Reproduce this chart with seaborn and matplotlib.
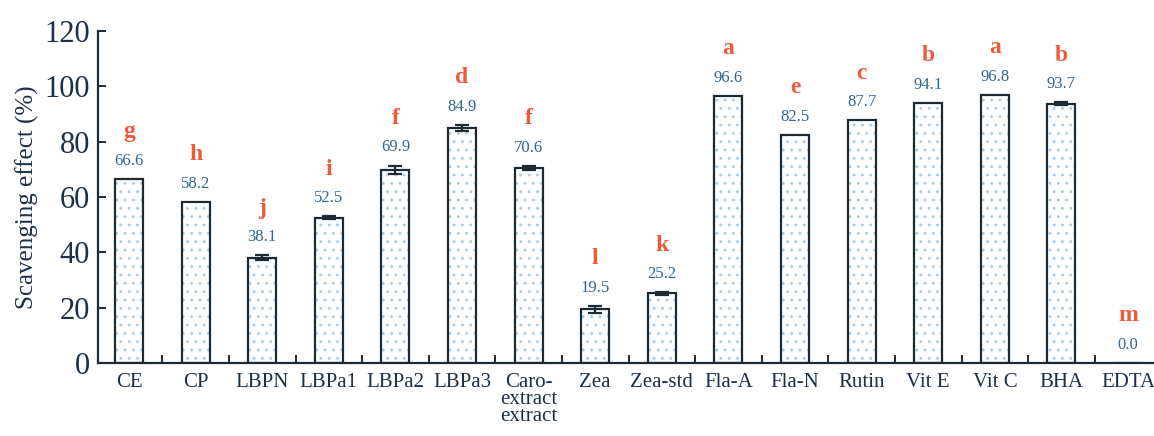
import seaborn as sns
import numpy as np
import matplotlib
matplotlib.use("Agg")
import matplotlib.pyplot as plt
from matplotlib.ticker import FixedLocator

samples = ["CE", "CP", "LBPN", "LBPa1", "LBPa2", "LBPa3", "Caro-\nextract\nextract",
           "Zea", "Zea-std", "Fla-A", "Fla-N", "Rutin", "Vit E", "Vit C", "BHA", "EDTA"]
scavenging = [66.6, 58.2, 38.1, 52.5, 69.9, 84.9, 70.6, 19.5, 25.2, 96.6, 82.5, 87.7, 94.1, 96.8, 93.7, 0.0]
sd = [0.0, 0.0, 0.8, 0.5, 1.5, 1.2, 0.7, 1.3, 0.4, 0.0, 0.0, 0.0, 0.0, 0.0, 0.5, 0.0]
letters = ["g", "h", "j", "i", "f", "d", "f", "l", "k", "a", "e", "c", "b", "a", "b", "m"]

sns.set_style("ticks")
plt.rcParams["font.family"] = ["Liberation Serif", "DejaVu Serif"]
plt.rcParams["hatch.linewidth"] = 0.9

dark = "#1b2a33"
tick_col = "#1d3048"
val_col = "#2f6690"
let_col = "#ee5a3a"

f, ax = plt.subplots(figsize=(11.54, 4.36), dpi=100)
f.subplots_adjust(left=0.085, right=1.0, bottom=0.167, top=0.929)

# dotted fill layer
sns.barplot(x=samples, y=scavenging, ax=ax, color="white", width=0.42,
            edgecolor="#a6cdea", linewidth=0, saturation=1)
for p in ax.patches:
    p.set_hatch("..")
# outline layer
sns.barplot(x=samples, y=scavenging, ax=ax, fill=False, width=0.42,
            edgecolor=dark, linewidth=1.6)

idx = [i for i, e in enumerate(sd) if e > 0]
ax.errorbar(idx, [scavenging[i] for i in idx], yerr=[sd[i] for i in idx],
            fmt="none", ecolor=dark, elinewidth=1.6, capsize=5, capthick=1.6)

for i, v in enumerate(scavenging):
    top = v + sd[i]
    ax.annotate(f"{v:.1f}", (i, top), xytext=(0, 13), textcoords="offset points",
                ha="center", va="center", fontsize=12, color=val_col)
    ax.annotate(letters[i], (i, top), xytext=(0, 34), textcoords="offset points",
                ha="center", va="center", fontsize=17, fontweight="bold", color=let_col)

ax.set_xlim(-0.465, 15.39)
ax.set_ylim(0, 120)
ax.set_yticks(np.arange(0, 121, 20))
ax.set_ylabel("Scavenging effect (%)", fontsize=18, color=tick_col, labelpad=4)
ax.set_xlabel("")
sns.despine(ax=ax)
for s in ["left", "bottom"]:
    ax.spines[s].set_linewidth(1.6)
    ax.spines[s].set_color(dark)

ax.tick_params(axis="y", direction="in", length=6, width=1.4, labelsize=22,
               colors=dark, labelcolor=tick_col, pad=6)
ax.tick_params(axis="x", which="major", length=0, labelsize=15, labelcolor=tick_col, pad=7)
ax.xaxis.set_minor_locator(FixedLocator(np.arange(0.5, 15, 1.0)))
ax.tick_params(axis="x", which="minor", direction="in", length=6, width=1.4, color=dark)
for lab in ax.get_xticklabels():
    lab.set_linespacing(0.85)
    lab.set_va("top")

plt.savefig("out.png", dpi=100)
